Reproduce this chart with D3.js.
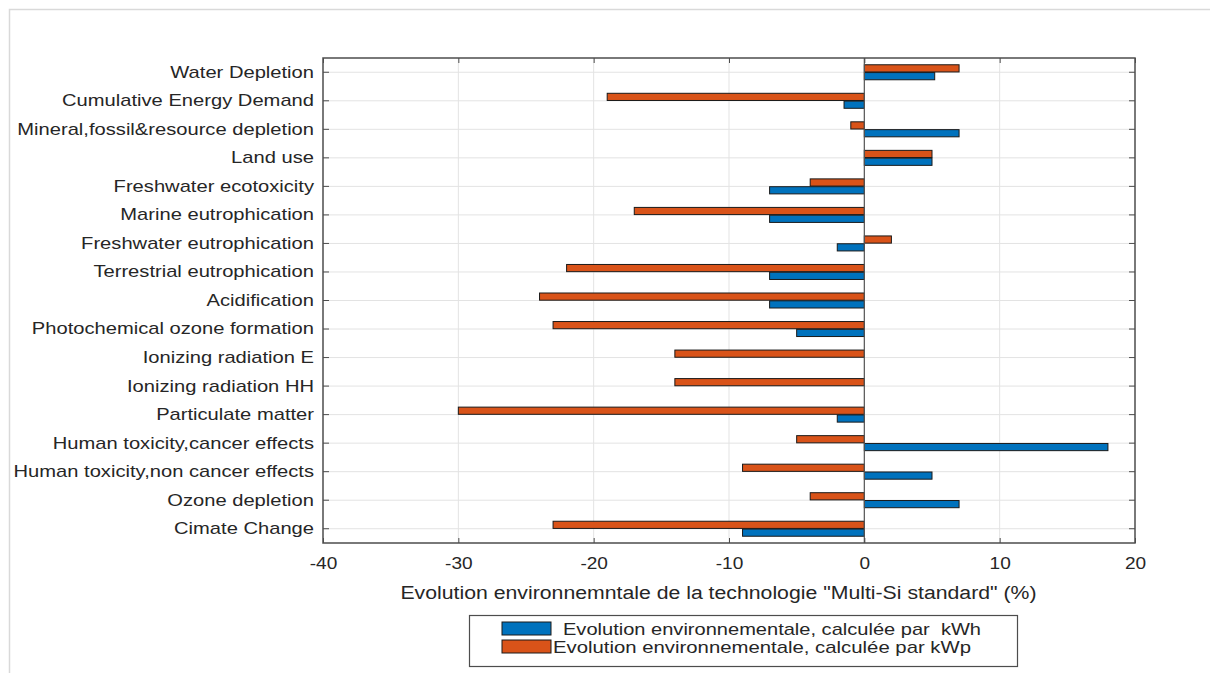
<!DOCTYPE html>
<html><head><meta charset="utf-8">
<script src="https://cdn.jsdelivr.net/npm/d3@7"></script>
<style>
html,body{margin:0;padding:0;background:#fff;}
svg{display:block;font-family:"Liberation Sans",Arial,sans-serif;}
</style></head>
<body><svg id="chart" width="1210" height="673"></svg>
<script>
const categories = ["Water Depletion","Cumulative Energy Demand","Mineral,fossil&resource depletion","Land use","Freshwater ecotoxicity","Marine eutrophication","Freshwater eutrophication","Terrestrial eutrophication","Acidification","Photochemical ozone formation","Ionizing radiation E","Ionizing radiation HH","Particulate matter","Human toxicity,cancer effects","Human toxicity,non cancer effects","Ozone depletion","Cimate Change"];
const perKWh = [5.2,-1.5,7,5,-7,-7,-2,-7,-7,-5,0,0,-2,18,5,7,-9];
const perKWp = [7,-19,-1,5,-4,-17,2,-22,-24,-23,-14,-14,-30,-5,-9,-4,-23];
const xTicks = [-40,-30,-20,-10,0,10,20];
const seriesNames = ["Evolution environnementale, calculée par  kWh","Evolution environnementale, calculée par kWp"];
const seriesColors = ["#0072BD","#D95319"];
const xLabel = "Evolution environnemntale de la technologie \"Multi-Si standard\" (%)";

(function(){
const svg = d3.select("#chart");
const pL=323,pR=1135,pT=58,pB=543;
const textColor="#262626";
const stretch=(sel,k)=>sel.each(function(){
  const L=this.getComputedTextLength();
  d3.select(this).attr("textLength",L*k).attr("lengthAdjust","spacingAndGlyphs");
});

svg.append("rect").attr("x",9.5).attr("y",9.5).attr("width",1215).attr("height",680)
  .attr("fill","none").attr("stroke","#d9d9d9").attr("stroke-width",1.5);

const x = d3.scaleLinear().domain([-40,20]).range([pL,pR]);
const y = d3.scaleBand().domain(categories).range([pT,pB]).padding(0);
const sub = d3.scaleBand().domain(["kWp","kWh"]).range([-7.5,7.5]).paddingInner(0.08);

const g = svg.append("g");
g.selectAll(".gx").data(xTicks.slice(1,-1)).enter().append("line")
  .attr("x1",d=>x(d)).attr("x2",d=>x(d)).attr("y1",pT).attr("y2",pB)
  .attr("stroke","#e3e3e3").attr("stroke-width",1);
g.selectAll(".gy").data(categories).enter().append("line")
  .attr("x1",pL).attr("x2",pR).attr("y1",d=>y(d)+y.bandwidth()/2).attr("y2",d=>y(d)+y.bandwidth()/2)
  .attr("stroke","#e3e3e3").attr("stroke-width",1);

const rows = categories.map((c,i)=>({c, kWh:perKWh[i], kWp:perKWp[i]}));
const drawSeries=(key,color)=>{
  g.selectAll(".b"+key).data(rows.filter(r=>r[key]!==0)).enter().append("rect")
    .attr("x",d=>Math.min(x(0),x(d[key])))
    .attr("width",d=>Math.abs(x(d[key])-x(0)))
    .attr("y",d=>y(d.c)+y.bandwidth()/2+sub(key))
    .attr("height",sub.bandwidth())
    .attr("fill",color).attr("stroke","#1a1a1a").attr("stroke-width",1);
};
drawSeries("kWp",seriesColors[1]);
drawSeries("kWh",seriesColors[0]);

g.append("line").attr("x1",x(0)).attr("x2",x(0)).attr("y1",pT).attr("y2",pB)
  .attr("stroke","#555").attr("stroke-width",1.2);

g.append("rect").attr("x",pL).attr("y",pT).attr("width",pR-pL).attr("height",pB-pT)
  .attr("fill","none").attr("stroke","#4d4d4d").attr("stroke-width",1.5);

const xAxis = d3.axisBottom(x).tickValues(xTicks).tickSize(-5).tickPadding(14).tickFormat(d3.format("d"));
const xa = svg.append("g").attr("transform",`translate(0,${pB})`).call(xAxis);
xa.select(".domain").remove();
xa.selectAll(".tick line").attr("stroke","#4d4d4d");
xa.selectAll("text").attr("font-size",17).attr("fill",textColor).text(d=>d<0?"-"+Math.abs(d):d)
  .call(stretch,1.12);
const xt = svg.append("g").attr("transform",`translate(0,${pT})`).call(d3.axisTop(x).tickValues(xTicks).tickSize(-5).tickFormat(""));
xt.select(".domain").remove(); xt.selectAll(".tick line").attr("stroke","#4d4d4d");

const yAxis = d3.axisLeft(y).tickSize(-6).tickPadding(9);
const ya = svg.append("g").attr("transform",`translate(${pL},0)`).call(yAxis);
ya.select(".domain").remove();
ya.selectAll(".tick line").attr("stroke","#4d4d4d");
ya.selectAll("text").attr("font-size",17).attr("fill",textColor).call(stretch,1.185);
const yr = svg.append("g").attr("transform",`translate(${pR},0)`).call(d3.axisRight(y).tickSize(-6).tickFormat(""));
yr.select(".domain").remove(); yr.selectAll(".tick line").attr("stroke","#4d4d4d");

svg.append("text").attr("x",718.5).attr("y",599).attr("text-anchor","middle")
  .attr("font-size",18).attr("fill",textColor).text(xLabel).call(stretch,1.18);

const lg = svg.append("g");
lg.append("rect").attr("x",469.5).attr("y",615.5).attr("width",548).attr("height",51)
  .attr("fill","#fff").attr("stroke","#4d4d4d").attr("stroke-width",1.2);
const legItems=[{n:seriesNames[0],c:seriesColors[0],y:622,tx:563},{n:seriesNames[1],c:seriesColors[1],y:640,tx:553}];
legItems.forEach(it=>{
  lg.append("rect").attr("x",502).attr("y",it.y).attr("width",49).attr("height",13)
    .attr("fill",it.c).attr("stroke","#1a1a1a").attr("stroke-width",1);
  const t=lg.append("text").attr("x",it.tx).attr("y",it.y+12.5).attr("font-size",17).attr("fill",textColor)
    .style("white-space","pre").text(it.n);
  const L=t.node().getComputedTextLength();
  t.attr("textLength",418).attr("lengthAdjust","spacingAndGlyphs");
});
})();
</script></body></html>
